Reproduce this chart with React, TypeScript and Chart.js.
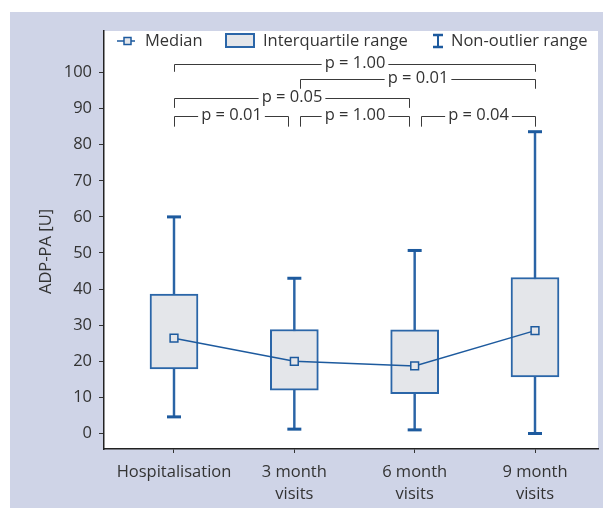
import React, { useEffect, useRef } from 'react';
import { Chart, registerables } from 'chart.js';

Chart.register(...registerables);

// ---------- data ----------
const categories: string[][] = [['Hospitalisation'], ['3 month', 'visits'], ['6 month', 'visits'], ['9 month', 'visits']];
const positions = [0, 1, 2, 3];
const whiskerLow = [4.6, 1.2, 1.0, 0];
const whiskerHigh = [60, 43.0, 50.7, 83.6];
const q1 = [17.9, 12.0, 11.0, 15.7];
const q3 = [38.6, 28.8, 28.7, 43.2];
const medians = [26.4, 20.0, 18.7, 28.5];
const yTicks = [0, 10, 20, 30, 40, 50, 60, 70, 80, 90, 100];
const yAxisTitle = 'ADP-PA [U]';
const legendLabels = ['Median', 'Interquartile range', 'Non-outlier range'];

const bracketLabels = ['p = 1.00', 'p = 0.01', 'p = 0.05', 'p = 0.01', 'p = 1.00', 'p = 0.04'];
const bracketFrom = [0, 1.05, 0, 0, 1.05, 2.05];
const bracketTo = [3, 3, 1.95, 0.95, 1.95, 3];
const bracketLevel = [102.3, 98.3, 93.0, 87.9, 87.9, 87.9];
const bracketDrop = [2.1, 2.8, 2.8, 2.9, 2.9, 2.9];

// ---------- styles ----------
const BLUE = '#1d5a9e';
const WHISKER = '#2a64a6';
const BOX_BORDER = '#2b66a8';
const BOX_FILL = '#e4e6ea';
const TEXT = '#333333';
const PANEL = '#cfd4e7';
const FONT = '"Open Sans", "Noto Sans", sans-serif';
const FS = 16.5;

const backgroundPlugin = {
  id: 'bgPanel',
  beforeDraw(chart: any) {
    const { ctx, chartArea: a, width, height } = chart;
    ctx.save();
    ctx.fillStyle = '#ffffff';
    ctx.fillRect(0, 0, width, height);
    ctx.fillStyle = PANEL;
    ctx.fillRect(10, 12, width - 10, height - 13);
    ctx.fillStyle = '#ffffff';
    ctx.fillRect(a.left, a.top, a.right - a.left, a.bottom - a.top);
    ctx.restore();
  },
};

const bracketPlugin = {
  id: 'brackets',
  afterDatasetsDraw(chart: any) {
    const { ctx } = chart;
    const x = chart.scales.x;
    const y = chart.scales.y;
    ctx.save();
    ctx.font = `${FS}px ${FONT}`;
    ctx.strokeStyle = '#3a3a3a';
    ctx.lineWidth = 1;
    ctx.fillStyle = TEXT;
    ctx.textAlign = 'center';
    ctx.textBaseline = 'middle';
    bracketLabels.forEach((lab, i) => {
      const x0 = Math.round(x.getPixelForValue(bracketFrom[i])) + 0.5;
      const x1 = Math.round(x.getPixelForValue(bracketTo[i])) + 0.5;
      const yl = Math.round(y.getPixelForValue(bracketLevel[i])) + 0.5;
      const yd = y.getPixelForValue(bracketLevel[i] - bracketDrop[i]);
      const xm = (x0 + x1) / 2;
      const w = ctx.measureText(lab).width;
      const gap = 3;
      ctx.beginPath();
      ctx.moveTo(x0, yd);
      ctx.lineTo(x0, yl);
      ctx.lineTo(xm - w / 2 - gap, yl);
      ctx.moveTo(xm + w / 2 + gap, yl);
      ctx.lineTo(x1, yl);
      ctx.lineTo(x1, yd);
      ctx.stroke();
      ctx.fillText(lab, xm, yl - 1);
    });
    ctx.restore();
  },
};

const legendAndTitlePlugin = {
  id: 'legendTitle',
  afterDraw(chart: any) {
    const { ctx } = chart;
    ctx.save();
    const ly = 41;
    // Median icon
    ctx.strokeStyle = BLUE;
    ctx.lineWidth = 1.5;
    ctx.beginPath();
    ctx.moveTo(117, ly);
    ctx.lineTo(135, ly);
    ctx.stroke();
    ctx.fillStyle = BOX_FILL;
    ctx.fillRect(124, ly - 3.5, 7, 7);
    ctx.strokeRect(124, ly - 3.5, 7, 7);
    // IQR icon
    ctx.lineWidth = 2;
    ctx.strokeStyle = BOX_BORDER;
    ctx.fillStyle = BOX_FILL;
    ctx.fillRect(226, 34, 28, 13);
    ctx.strokeRect(226, 34, 28, 13);
    // Non-outlier icon
    ctx.strokeStyle = BLUE;
    ctx.lineWidth = 2;
    ctx.beginPath();
    ctx.moveTo(438, 35);
    ctx.lineTo(438, 47);
    ctx.stroke();
    ctx.lineWidth = 2.5;
    ctx.beginPath();
    ctx.moveTo(433, 35);
    ctx.lineTo(443, 35);
    ctx.moveTo(433, 47);
    ctx.lineTo(443, 47);
    ctx.stroke();
    // legend text
    ctx.fillStyle = TEXT;
    ctx.font = `${FS}px ${FONT}`;
    ctx.textAlign = 'left';
    ctx.textBaseline = 'middle';
    ctx.fillText(legendLabels[0], 145, ly);
    ctx.fillText(legendLabels[1], 263, ly);
    ctx.fillText(legendLabels[2], 451, ly);
    // y axis title
    ctx.translate(46, 251.5);
    ctx.rotate(-Math.PI / 2);
    ctx.textAlign = 'center';
    ctx.fillText(yAxisTitle, 0, 0);
    ctx.restore();
  },
};

export default function App() {
  const ref = useRef<HTMLCanvasElement>(null);
  useEffect(() => {
    if (!ref.current) return;
    Chart.defaults.font.family = FONT;
    const chart = new Chart(ref.current, {
      type: 'bar',
      data: {
        datasets: [
          {
            type: 'line',
            label: legendLabels[0],
            data: positions.map((p, i) => ({ x: p, y: medians[i] })),
            borderColor: BLUE,
            borderWidth: 1.5,
            pointStyle: 'rect',
            pointRadius: 5.5,
            pointBackgroundColor: BOX_FILL,
            pointBorderColor: BLUE,
            pointBorderWidth: 1.5,
            tension: 0,
            order: 0,
          } as any,
          {
            type: 'scatter',
            label: 'caps',
            data: [
              ...positions.map((p, i) => ({ x: p, y: whiskerLow[i] })),
              ...positions.map((p, i) => ({ x: p, y: whiskerHigh[i] })),
            ],
            pointStyle: 'line',
            pointRadius: 7,
            pointBorderColor: BLUE,
            borderColor: BLUE,
            pointBorderWidth: 3,
            order: 1,
          } as any,
          {
            type: 'bar',
            label: legendLabels[1],
            data: positions.map((p, i) => ({ x: p, y: [q1[i], q3[i]] })),
            backgroundColor: BOX_FILL,
            borderColor: BOX_BORDER,
            borderWidth: 2,
            borderSkipped: false,
            barThickness: 48,
            grouped: false,
            order: 2,
          } as any,
          {
            type: 'bar',
            label: legendLabels[2],
            data: positions.map((p, i) => ({ x: p, y: [whiskerLow[i], whiskerHigh[i]] })),
            backgroundColor: WHISKER,
            borderWidth: 0,
            barThickness: 1.8,
            grouped: false,
            order: 3,
          } as any,
        ],
      },
      options: {
        responsive: false,
        animation: false,
        devicePixelRatio: 1,
        layout: { autoPadding: false, padding: { top: 31, right: 5, bottom: 0, left: 0 } },
        plugins: {
          legend: { display: false },
          tooltip: { enabled: false },
        },
        scales: {
          x: {
            type: 'linear',
            min: -0.5817,
            max: 3.5235,
            offset: false,
            afterBuildTicks: (s: any) => {
              s.ticks = positions.map((v) => ({ value: v }));
            },
            afterFit: (s: any) => {
              s.height = 60;
            },
            ticks: {
              autoSkip: false,
              maxRotation: 0,
              color: TEXT,
              padding: 8,
              font: { size: FS, family: FONT, lineHeight: 1.35 },
              callback: (_v: any, i: number) => categories[i],
            },
            grid: { display: true, offset: false, drawOnChartArea: false, drawTicks: true, tickLength: 4, color: '#333333' },
            border: { display: true, color: '#222222', width: 1.5 },
          } as any,
          y: {
            type: 'linear',
            min: -4.3,
            max: 111.5,
            afterBuildTicks: (s: any) => {
              s.ticks = yTicks.map((v) => ({ value: v }));
            },
            afterFit: (s: any) => {
              s.width = 104;
            },
            ticks: {
              color: TEXT,
              padding: 7,
              font: { size: FS, family: FONT },
            },
            grid: { display: true, drawOnChartArea: false, drawTicks: true, tickLength: 5, color: '#333333' },
            border: { display: true, color: '#222222', width: 1.5 },
          } as any,
        },
      },
      plugins: [backgroundPlugin, bracketPlugin, legendAndTitlePlugin],
    } as any);
    return () => chart.destroy();
  }, []);
  return (
    <div style={{ position: 'fixed', left: 0, top: 0, width: 603, height: 509 }}>
      <canvas ref={ref} width={603} height={509} style={{ display: 'block' }} />
    </div>
  );
}
